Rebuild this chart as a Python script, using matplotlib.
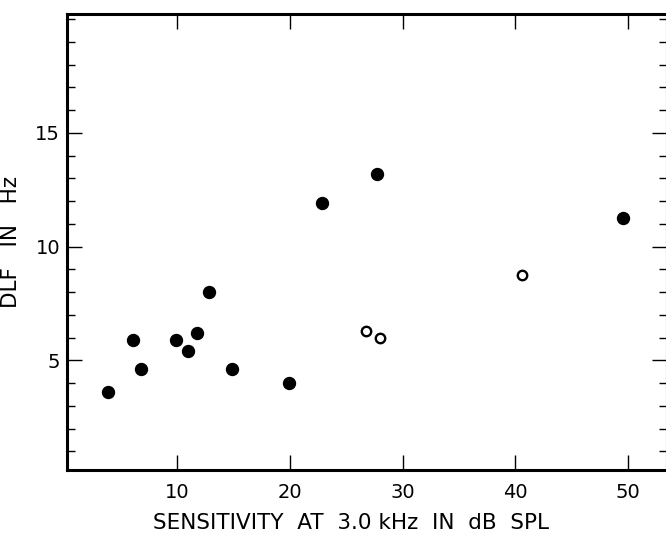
import matplotlib
matplotlib.use("Agg")
import matplotlib.pyplot as plt
from matplotlib.ticker import MultipleLocator

# filled circles
filled_x = [3.9, 6.1, 6.8, 9.9, 11.0, 11.8, 12.8, 14.9, 19.9, 22.9, 27.7, 49.6]
filled_y = [3.6, 5.9, 4.6, 5.9, 5.4, 6.2, 8.0, 4.6, 4.0, 11.9, 13.2, 11.25]

# open circles
open_x = [26.8, 28.0, 40.6]
open_y = [6.3, 6.0, 8.75]

xticks = [10, 20, 30, 40, 50]
yticks = [5, 10, 15]

plt.rcParams['font.family'] = ['DejaVu Sans']

fig = plt.figure(figsize=(6.66, 5.35), dpi=100)
ax = fig.add_axes([67 / 666, 65 / 535, 600 / 666, 456 / 535])

ax.plot(filled_x, filled_y, 'o', color='black', markersize=8.6, linestyle='none')
ax.plot(open_x, open_y, 'o', markerfacecolor='white', markeredgecolor='black',
        markersize=6.8, markeredgewidth=1.7, linestyle='none')

ax.set_xlim(0.24, 53.46)
ax.set_ylim(0.18, 20.22)

for s in ax.spines.values():
    s.set_linewidth(2.2)

ax.set_xticks(xticks)
ax.set_yticks(yticks)
ax.yaxis.set_minor_locator(MultipleLocator(1))
ax.tick_params(axis='both', which='major', direction='in', length=10.5, width=1.0,
               top=True, right=True, labelsize=14, pad=9)
ax.tick_params(axis='y', which='major', pad=5)
ax.tick_params(axis='y', which='minor', direction='in', length=6, width=1.0,
               left=True, right=True)
ax.tick_params(axis='x', which='minor', bottom=False, top=False)

ax.set_xlabel('SENSITIVITY  AT  3.0 kHz  IN  dB  SPL', fontsize=15.5, labelpad=8)
ax.xaxis.set_label_coords(0.473, -0.095)
ax.set_ylabel('DLF   IN   Hz', fontsize=15.5, labelpad=10)

fig.savefig('out.png', dpi=100)
